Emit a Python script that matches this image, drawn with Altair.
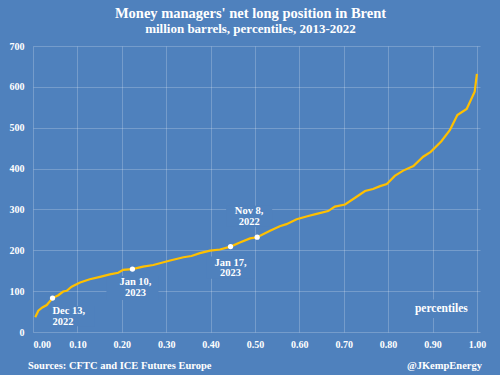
import altair as alt
import pandas as pd

# ---- data ----
pct = [0.005, 0.012, 0.021, 0.031, 0.044, 0.057, 0.068, 0.076, 0.087, 0.106,
       0.128, 0.151, 0.173, 0.192, 0.203, 0.224, 0.248, 0.271, 0.309, 0.339,
       0.357, 0.376, 0.399, 0.421, 0.445, 0.466, 0.489, 0.505, 0.534, 0.556,
       0.571, 0.594, 0.620, 0.639, 0.665, 0.680, 0.703, 0.729, 0.748, 0.766,
       0.782, 0.797, 0.815, 0.834, 0.857, 0.879, 0.896, 0.920, 0.939, 0.956,
       0.977, 0.995, 1.000]
mbbl = [36, 52, 60, 66, 83, 90, 99, 101, 111, 121,
        129, 135, 141, 145, 152, 154, 160, 164, 175, 183,
        186, 193, 199, 202, 209, 219, 229, 232, 248, 259,
        264, 276, 284, 289, 296, 307, 312, 331, 345, 350,
        357, 362, 382, 395, 406, 429, 441, 467, 494, 531,
        546, 588, 632]

ann_labels = ["Dec 13,\n2022", "Jan 10,\n2023", "Jan 17,\n2023", "Nov 8,\n2022"]
ann_pct = [0.044, 0.224, 0.445, 0.505]
ann_mbbl = [83, 154, 209, 232]

x_ticks = [0.0, 0.1, 0.2, 0.3, 0.4, 0.5, 0.6, 0.7, 0.8, 0.9, 1.0]
y_ticks = [0, 100, 200, 300, 400, 500, 600, 700]

title_text = "Money managers' net long position in Brent"
subtitle_text = "million barrels, percentiles, 2013-2022"
source_text = "Sources: CFTC and ICE Futures Europe"
handle_text = "@JKempEnergy"
xlabel_text = "percentiles"

# ---- styles ----
BG = "#4F81BD"
GOLD = "#FFC000"
FONT = "Liberation Serif"

series = pd.DataFrame({"pct": pct, "mbbl": mbbl})
ann = pd.DataFrame({"pct": ann_pct, "mbbl": ann_mbbl, "label": ann_labels})

xs = alt.Scale(domain=[0, 1.007], nice=False)
ys = alt.Scale(domain=[0, 700], nice=False)

X = alt.X("pct:Q", scale=xs, axis=alt.Axis(values=x_ticks, format=".2f", title=None,
                                            labelPadding=7))
Y = alt.Y("mbbl:Q", scale=ys, axis=alt.Axis(values=y_ticks, format="d", title=None,
                                             labelPadding=9))

line = alt.Chart(series).mark_line(color=GOLD, strokeWidth=2.2).encode(x=X, y=Y)

dots = alt.Chart(ann).mark_circle(color="white", opacity=1, size=28).encode(x=X, y=Y)

BOX = "M-1,-0.46L1,-0.46L1,0.46L-1,0.46Z"

layers = []
# label boxes (cover the gridlines like the reference's opaque text boxes)
offsets = [  # (box dx, box dy, box size, text dx, text dy, align)
    (20, 18, 44 * 44, 0, 8, "left"),
    (0, 19, 52 * 52, 3, 8, "center"),
    (0, 21, 48 * 48, 0, 11, "center"),
    (-8, -21, 46 * 46, -8, -31, "center"),
]
for i, (bdx, bdy, bsz, tdx, tdy, al) in enumerate(offsets):
    sub = ann.iloc[[i]]
    layers.append(
        alt.Chart(sub).mark_point(shape=BOX, filled=True, fill=BG, stroke=None,
                                  opacity=1, size=bsz, xOffset=bdx, yOffset=bdy)
        .encode(x=X, y=Y)
    )
for i, (bdx, bdy, bsz, tdx, tdy, al) in enumerate(offsets):
    sub = ann.iloc[[i]]
    layers.append(
        alt.Chart(sub).mark_text(font=FONT, fontWeight="bold", fontSize=10.5,
                                 color="white", align=al, baseline="top",
                                 lineBreak="\n", lineHeight=10.5, dx=tdx, dy=tdy)
        .encode(x=X, y=Y, text="label:N")
    )

one = pd.DataFrame({"pct": [0.92], "mbbl": [57]})
pbox = alt.Chart(one).mark_point(shape="M-1,-0.34L1,-0.34L1,0.34L-1,0.34Z", filled=True,
                                 fill=BG, stroke=None, opacity=1, size=54 * 54).encode(x=X, y=Y)
ptext = alt.Chart(one).mark_text(font=FONT, fontWeight="bold", fontSize=11.5, color="white",
                                 align="center", baseline="middle").encode(
    x=X, y=Y, text=alt.value(xlabel_text))

blank = pd.DataFrame({"a": [0]})
src = alt.Chart(blank).mark_text(font=FONT, fontWeight="bold", fontSize=10.5, color="white",
                                 align="left", baseline="middle").encode(
    x=alt.value(-5), y=alt.value(320), text=alt.value(source_text))
hnd = alt.Chart(blank).mark_text(font=FONT, fontWeight="bold", fontSize=10.5, color="white",
                                 align="right", baseline="middle").encode(
    x=alt.value(449), y=alt.value(320), text=alt.value(handle_text))

chart = alt.layer(*layers[:4], pbox, line, dots, *layers[4:], ptext, src, hnd).properties(
    width=447, height=286,
    background=BG,
    padding={"left": 33, "top": 46, "right": 20, "bottom": 43},
    autosize=alt.AutoSizeParams(type="none"),
    title=alt.TitleParams(
        text=title_text, subtitle=subtitle_text, anchor="middle", dx=-6, offset=4,
        font=FONT, fontSize=14.5, fontWeight="bold", color="white",
        subtitleFont=FONT, subtitleFontSize=13, subtitleFontWeight="bold",
        subtitleColor="white", subtitlePadding=2,
    ),
).configure_view(stroke=None, fill=BG).configure_axis(
    domain=False, ticks=False, grid=True, gridColor="#FFFFFF", gridOpacity=0.22,
    gridWidth=1, labelColor="white", labelFont=FONT, labelFontWeight="bold",
    labelFontSize=10,
)

chart.save("out.html", embed_options={"renderer": "svg", "actions": False})
